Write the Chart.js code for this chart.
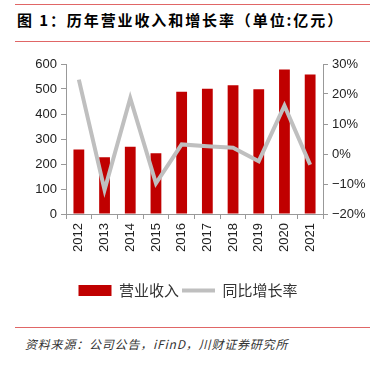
<!DOCTYPE html>
<html>
<head>
<meta charset="utf-8">
<script src="https://cdn.jsdelivr.net/npm/chart.js@4.4.0/dist/chart.umd.min.js"></script>
<style>
  body { margin: 0; background: #fff; width: 376px; height: 365px; position: relative; overflow: hidden; }
  .rule { position: absolute; left: 15px; width: 355px; height: 1px; background: #e06666; }
  #title { position: absolute; left: 17px; top: 9px; font: bold 15px "Noto Sans CJK SC", sans-serif; letter-spacing: 1.9px; color: #000; white-space: nowrap; }
  #source { position: absolute; left: 25px; top: 335px; font: italic 12px "Noto Sans CJK SC", sans-serif; letter-spacing: 0.8px; color: #333; white-space: nowrap; }
  #box { position: absolute; left: 0; top: 45px; width: 376px; height: 263px; }
</style>
</head>
<body>
<div class="rule" style="top:4px"></div>
<div id="title">图 1：历年营业收入和增长率（单位:亿元）</div>
<div class="rule" style="top:41px"></div>
<div id="box"><canvas id="chart"></canvas></div>
<div class="rule" style="top:327px"></div>
<div id="source">资料来源：公司公告，iFinD，川财证券研究所</div>
<script>
  // 年份
  const years = ["2012", "2013", "2014", "2015", "2016", "2017", "2018", "2019", "2020", "2021"];
  // 营业收入 (亿元)
  const revenue = [258, 227, 269, 243, 489, 501, 515, 499, 578, 558];
  // 同比增长率 (%)
  const growth = [24.8, -12.0, 18.6, -9.8, 3.2, 2.6, 2.1, -2.4, 16.1, -3.6];

  const axisColor = "#999999";
  const tickFont = { family: "'Liberation Sans', Arial, sans-serif", size: 13 };

  const ctx = document.getElementById("chart").getContext("2d");
  const chart = new Chart(ctx, {
    data: {
      labels: years,
      datasets: [
        {
          type: "bar",
          label: "营业收入",
          data: revenue,
          backgroundColor: "#c00000",
          borderWidth: 0,
          barPercentage: 0.42,
          categoryPercentage: 1,
          yAxisID: "y",
          order: 2,
          pointStyle: "rect"
        },
        {
          type: "line",
          label: "同比增长率",
          data: growth,
          borderColor: "#bfbfbf",
          backgroundColor: "#bfbfbf",
          borderWidth: 4,
          pointRadius: 0,
          tension: 0,
          yAxisID: "y1",
          order: 1,
          pointStyle: "line"
        }
      ]
    },
    options: {
      responsive: true,
      maintainAspectRatio: false,
      animation: false,
      layout: { padding: { top: 19, left: 0, right: 0, bottom: 0 } },
      plugins: {
        title: { display: false },
        tooltip: { enabled: false },
        legend: {
          display: true,
          position: "bottom",
          labels: {
            usePointStyle: true,
            pointStyleWidth: 33,
            boxHeight: 11,
            padding: 3,
            color: "#333",
            font: { family: "'Noto Sans CJK SC', sans-serif", size: 15 },
            sort: function(a, b) { return a.datasetIndex - b.datasetIndex; }
          }
        }
      },
      scales: {
        x: {
          offset: true,
          grid: { offset: true, drawOnChartArea: false, drawTicks: true, tickLength: 5, color: axisColor },
          border: { color: axisColor },
          ticks: { minRotation: 90, maxRotation: 90, padding: 4, color: "#222", font: tickFont },
          afterFit: function(scale) { scale.height = 66; }
        },
        y: {
          position: "left",
          min: 0,
          max: 600,
          ticks: { stepSize: 100, padding: 4, color: "#222", font: tickFont },
          grid: { drawOnChartArea: false, drawTicks: true, tickLength: 5, color: axisColor },
          border: { color: axisColor },
          afterFit: function(scale) { scale.width = 66; }
        },
        y1: {
          position: "right",
          min: -20,
          max: 30,
          ticks: {
            stepSize: 10,
            padding: 4,
            color: "#222",
            font: tickFont,
            callback: function(v) { return (v < 0 ? "\u2212" + Math.abs(v) : v) + "%"; }
          },
          grid: { drawOnChartArea: false, drawTicks: true, tickLength: 5, color: axisColor },
          border: { color: axisColor },
          afterFit: function(scale) { scale.width = 53; }
        }
      }
    }
  });
</script>
</body>
</html>
